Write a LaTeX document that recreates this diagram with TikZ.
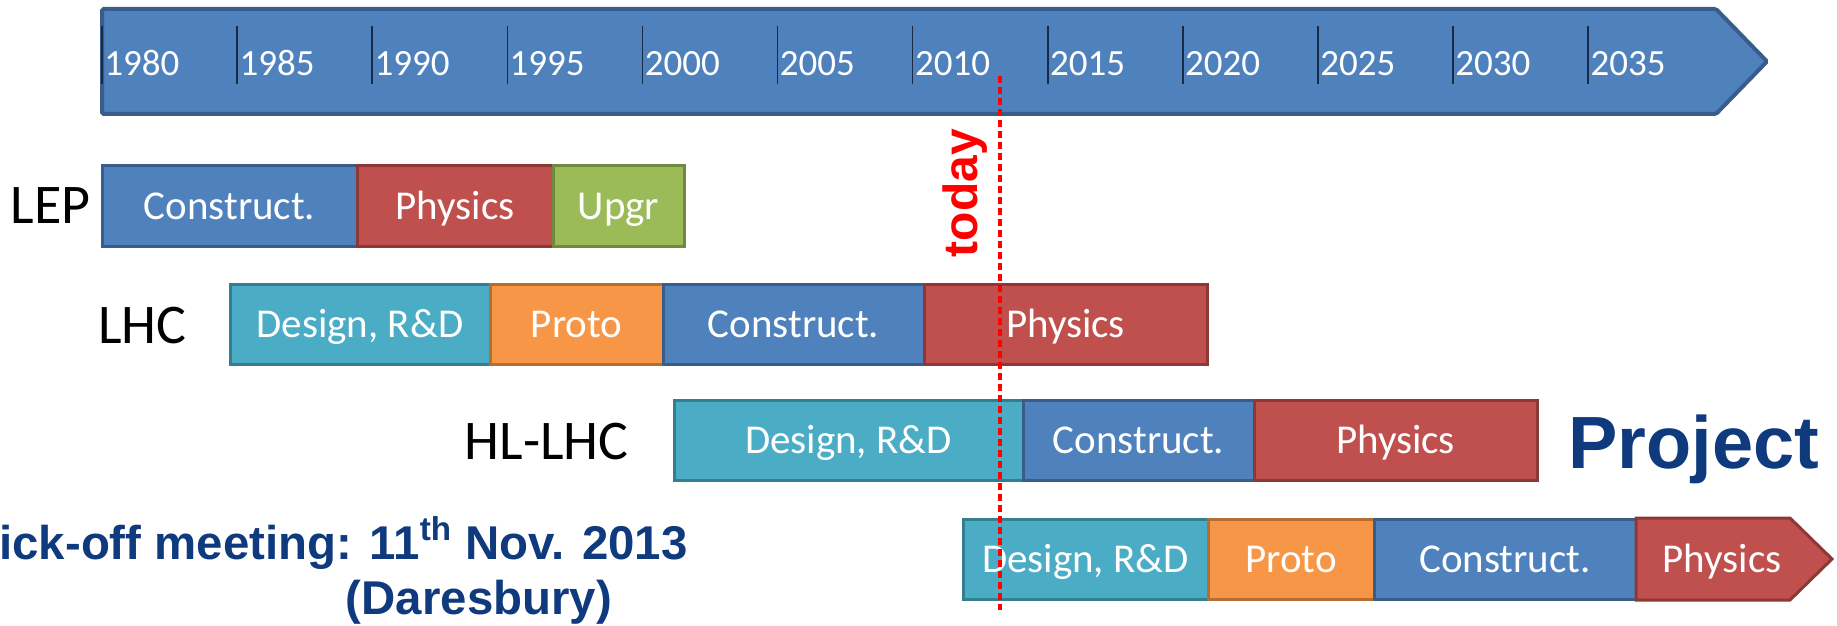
\documentclass[tikz,border=0pt]{standalone}
\usepackage{fontspec}
\setmainfont{Carlito}
\newfontfamily\arialf{Liberation Sans}
\definecolor{cblue}{HTML}{4F81BD}\definecolor{cblueD}{HTML}{385D8A}
\definecolor{cred}{HTML}{C0504D}\definecolor{credD}{HTML}{8C3836}
\definecolor{cgreen}{HTML}{9BBB59}\definecolor{cgreenD}{HTML}{71893F}
\definecolor{cteal}{HTML}{4BACC6}\definecolor{ctealD}{HTML}{357D91}
\definecolor{corange}{HTML}{F79646}\definecolor{corangeD}{HTML}{B66D31}
\definecolor{navy}{HTML}{0F3A7D}
\definecolor{tickc}{HTML}{1B2A44}
\definecolor{todayred}{HTML}{FF0000}
\newcommand{\pbox}[6]{\node[phase,#5,minimum width={(#3-#2)*0.5pt}] (#1) at ({(#2+#3)/2},#4) {#6};}
\begin{document}
\begin{tikzpicture}[x=0.5pt,y=-0.5pt,
  phase/.style={draw, line width=1.5pt, inner sep=0pt, text=white,
    font=\fontsize{20.5pt}{22pt}\selectfont, text height=13.2pt, text depth=0pt,
    minimum height=40pt},
  bluebox/.style={fill=cblue, draw=cblueD},
  redbox/.style={fill=cred, draw=credD},
  greenbox/.style={fill=cgreen, draw=cgreenD},
  tealbox/.style={fill=cteal, draw=ctealD},
  orangebox/.style={fill=corange, draw=corangeD},
  yearlbl/.style={text=white, inner sep=0pt, anchor=west,
    font=\fontsize{18.5pt}{20pt}\selectfont, text height=11.9pt, text depth=0pt},
  rowlbl/.style={inner sep=0pt, anchor=east, font=\fontsize{28pt}{30pt}\selectfont},
  navytext/.style={inner sep=0pt, text=navy, font=\arialf\bfseries\fontsize{23.7pt}{26pt}\selectfont},
  todaylbl/.style={inner sep=0pt, text=todayred, rotate=90, font=\arialf\bfseries\fontsize{24pt}{26pt}\selectfont},
  todayline/.style={draw=todayred, line width=1.6pt, dash pattern=on 3.5pt off 2pt}
]
\useasboundingbox (0,0) rectangle (1837,626);
\clip (0,0) rectangle (1837,626);

% time axis arrow
\draw[line width=2pt, draw=cblueD, fill=cblue, rounded corners=0.8pt]
  (102,9) -- (1716,9) -- (1767,61.5) -- (1716,114) -- (102,114) -- cycle;
\foreach \k in {0,...,11}{
  \pgfmathtruncatemacro\yr{1980+5*\k}
  \draw[tickc, line width=0.8pt] ({102+135.1*\k},26) -- ({102+135.1*\k},84);
  \node[yearlbl] (y\yr) at ({104+135.1*\k},64) {\yr};
}

% LEP
\node[rowlbl] (lep) at (91,206) {LEP};
\pbox{lepc}{102}{357}{206}{bluebox}{Construct.}
\pbox{lepp}{357}{553}{206}{redbox}{Physics}
\pbox{lepu}{553}{684}{206}{greenbox}{Upgr}

% LHC
\node[rowlbl] (lhc) at (187,326) {LHC};
\pbox{lhcd}{230}{490}{324}{tealbox}{Design, R\&D}
\pbox{lhcp}{490}{663}{324}{orangebox}{Proto}
\pbox{lhcc}{663}{924}{324}{bluebox}{Construct.}
\pbox{lhcph}{924}{1207}{324}{redbox}{Physics}

% HL-LHC
\node[rowlbl] (hl) at (629,442) {HL-LHC};
\pbox{hld}{674}{1023}{440}{tealbox}{Design, R\&D}
\pbox{hlc}{1023}{1254}{440}{bluebox}{Construct.}
\pbox{hlp}{1254}{1537}{440}{redbox}{Physics}

\node[inner sep=0pt, anchor=base west, text=navy, font=\arialf\bfseries\fontsize{37pt}{40pt}\selectfont] (proj) at (1568,468) {Project};

% Project row
\pbox{pd}{963}{1208}{559}{tealbox}{Design, R\&D}
\pbox{pp}{1208}{1374}{559}{orangebox}{Proto}
\pbox{pc}{1374}{1636}{559}{bluebox}{Construct.}
\draw[redbox, line width=1.5pt] (1636,518) -- (1790,518) -- (1832,559) -- (1790,600) -- (1636,600) -- cycle;
\node[phase, draw=none] (pph) at (1722,559) {Physics};

% kick-off text
\node[navytext, anchor=base east] (kick) at (688,559) {Kick-off meeting: 11\textsuperscript{th} Nov. 2013};
\node[navytext, anchor=base] (dares) at (479,614) {(Daresbury)};

% today
\node[todaylbl] (today) at (965,193) {today};
\coordinate (dtop) at (1000,76);
\coordinate (dbot) at (1000,610);
\draw[todayline] (dtop) -- (dbot);
\end{tikzpicture}
\end{document}
